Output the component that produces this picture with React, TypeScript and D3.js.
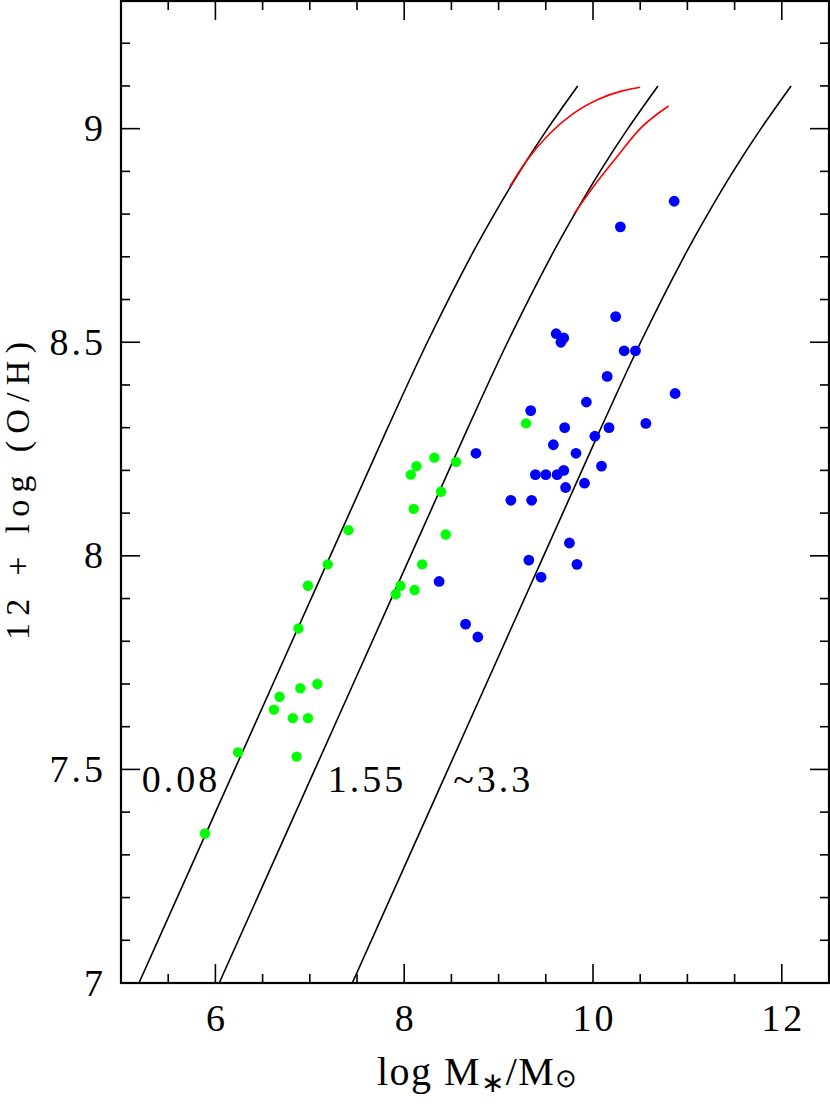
import React from "react";
import * as d3 from "d3";

const W = 830;
const H = 1110;

// green galaxies: log M*, 12 + log(O/H)
const greenMass = [5.89, 6.24, 6.86, 6.62, 6.68, 6.9, 7.08, 6.82, 6.98, 6.88, 6.98, 7.19, 7.41,
  9.29, 8.32, 8.13, 8.07, 8.55, 8.39, 8.1, 8.44, 8.19, 7.96, 7.91, 8.11];
const greenOH = [7.35, 7.54, 7.53, 7.64, 7.67, 7.69, 7.7, 7.62, 7.62, 7.83, 7.93, 7.98, 8.06,
  8.31, 8.23, 8.21, 8.19, 8.22, 8.15, 8.11, 8.05, 7.98, 7.93, 7.91, 7.92];

// blue galaxies
const blueMass = [10.24, 9.61, 9.69, 9.66, 10.33, 10.45, 10.15, 10.87, 9.93, 9.34, 9.7, 10.17,
  10.56, 10.02, 9.58, 9.82, 8.76, 10.09, 9.39, 9.5, 9.62, 9.69, 9.91, 9.71, 9.13, 9.35, 9.75,
  9.32, 9.83, 9.45, 8.37, 8.65, 8.78, 10.86, 10.29];
const blueOH = [8.56, 8.52, 8.51, 8.5, 8.48, 8.48, 8.42, 8.38, 8.36, 8.34, 8.3, 8.3, 8.31, 8.28,
  8.26, 8.24, 8.24, 8.21, 8.19, 8.19, 8.19, 8.2, 8.17, 8.16, 8.13, 8.13, 8.03, 7.99, 7.98, 7.95,
  7.94, 7.84, 7.81, 8.83, 8.77];

// model tracks (black): shared O/H grid, log M* for each track
const trackOH = [7.0, 7.5, 8.0, 8.3, 8.5, 8.7, 8.8, 8.9, 9.0, 9.1];
const track008 = [5.19, 6.204, 7.217, 7.826, 8.245, 8.703, 8.955, 9.225, 9.519, 9.838];
const track155 = [6.04, 7.054, 8.067, 8.676, 9.095, 9.553, 9.805, 10.075, 10.369, 10.688];
const track33 = [7.45, 8.464, 9.477, 10.086, 10.505, 10.963, 11.215, 11.485, 11.779, 12.098];

// red curves
const redA: [number, number][] = [[9.12, 8.865], [9.3, 8.926], [9.54, 8.988], [9.79, 9.035],
  [10.07, 9.07], [10.32, 9.089], [10.5, 9.097]];
const redB: [number, number][] = [[9.8, 8.801], [10.0, 8.863], [10.25, 8.933], [10.5, 9.0],
  [10.8, 9.053]];

const trackLabels = ["0.08", "1.55", "~3.3"];
const xTickLabels = [6, 8, 10, 12];
const yTickLabels = [7, 7.5, 8, 8.5, 9];

export default function App() {
  const x = d3.scaleLinear().domain([5, 12.5]).range([121, 829]);
  const y = d3.scaleLinear().domain([7, 9.3]).range([983, 0.5]);

  const trackLine = d3.line<number>()
    .x(d => x(d))
    .y((d, i) => y(trackOH[i]))
    .curve(d3.curveCatmullRom.alpha(0.5));
  const redLine = d3.line<[number, number]>()
    .x(d => x(d[0]))
    .y(d => y(d[1]))
    .curve(d3.curveMonotoneX);

  const xMinor = d3.range(5.5, 12.5, 0.5);
  const yMinor = d3.range(7.1, 9.3, 0.1);

  const [x0, x1] = x.range();
  const [y0, y1] = [y(7), 1];

  const font = "'Liberation Serif', serif";
  const labelPos = [[5.22, 7.447], [7.19, 7.447], [8.52, 7.447]];

  return (
    <svg width={W} height={H} style={{ position: "absolute", left: 0, top: 0, background: "#fff" }}>
      <defs>
        <clipPath id="plot">
          <rect x={x0} y={y1} width={x1 - x0} height={y0 - y1} />
        </clipPath>
      </defs>

      <g clipPath="url(#plot)" fill="none">
        {[track008, track155, track33].map((t, i) => (
          <path key={i} d={trackLine(t) || ""} stroke="#000" strokeWidth={1.6} />
        ))}
        {[redA, redB].map((t, i) => (
          <path key={i} d={redLine(t) || ""} stroke="#ff0000" strokeWidth={1.6} />
        ))}
      </g>

      {greenMass.map((m, i) => (
        <circle key={"g" + i} cx={x(m)} cy={y(greenOH[i])} r={5.2} fill="#00ff00" />
      ))}
      {blueMass.map((m, i) => (
        <circle key={"b" + i} cx={x(m)} cy={y(blueOH[i])} r={5.4} fill="#0000ff" />
      ))}

      {trackLabels.map((t, i) => (
        <text key={t} x={x(labelPos[i][0])} y={y(labelPos[i][1])} fontFamily={font}
          fontSize={38} letterSpacing={3}>{t}</text>
      ))}

      {/* ticks on all four sides */}
      <g stroke="#000" strokeWidth={1.6}>
        {xMinor.map(v => {
          const len = xTickLabels.includes(v) ? 19 : 9;
          return (
            <g key={"xt" + v}>
              <line x1={x(v)} x2={x(v)} y1={y0} y2={y0 - len} />
              <line x1={x(v)} x2={x(v)} y1={y1} y2={y1 + len} />
            </g>
          );
        })}
        {yMinor.map(v => {
          const major = yTickLabels.some(t => Math.abs(t - v) < 1e-6);
          const len = major ? 19 : 9;
          return (
            <g key={"yt" + v}>
              <line x1={x0} x2={x0 + len} y1={y(v)} y2={y(v)} />
              <line x1={x1} x2={x1 - len} y1={y(v)} y2={y(v)} />
            </g>
          );
        })}
      </g>

      <rect x={x0} y={y1} width={x1 - x0} height={y0 - y1} fill="none" stroke="#000" strokeWidth={2.2} />

      {xTickLabels.map(v => (
        <text key={"xl" + v} x={x(v) + 1.5} y={1031} textAnchor="middle" fontFamily={font}
          fontSize={38} letterSpacing={3}>{v}</text>
      ))}
      {yTickLabels.map(v => (
        <text key={"yl" + v} x={106} y={y(v) + 12.5} textAnchor="end" fontFamily={font}
          fontSize={38} letterSpacing={3}>{v}</text>
      ))}

      <text x={377} y={1085} fontFamily={font} fontSize={40} letterSpacing={1.5}>
        log M
        <tspan fontSize={28} dy={7}>∗</tspan>
        <tspan fontSize={40} dy={-7}>/M</tspan>
        <tspan fontSize={26} dy={2}>⊙</tspan>
      </text>

      <text transform="translate(29,491) rotate(-90)" textAnchor="middle" fontFamily={font}
        fontSize={34} textLength={298} lengthAdjust="spacing">12 + log (O/H)</text>
    </svg>
  );
}
